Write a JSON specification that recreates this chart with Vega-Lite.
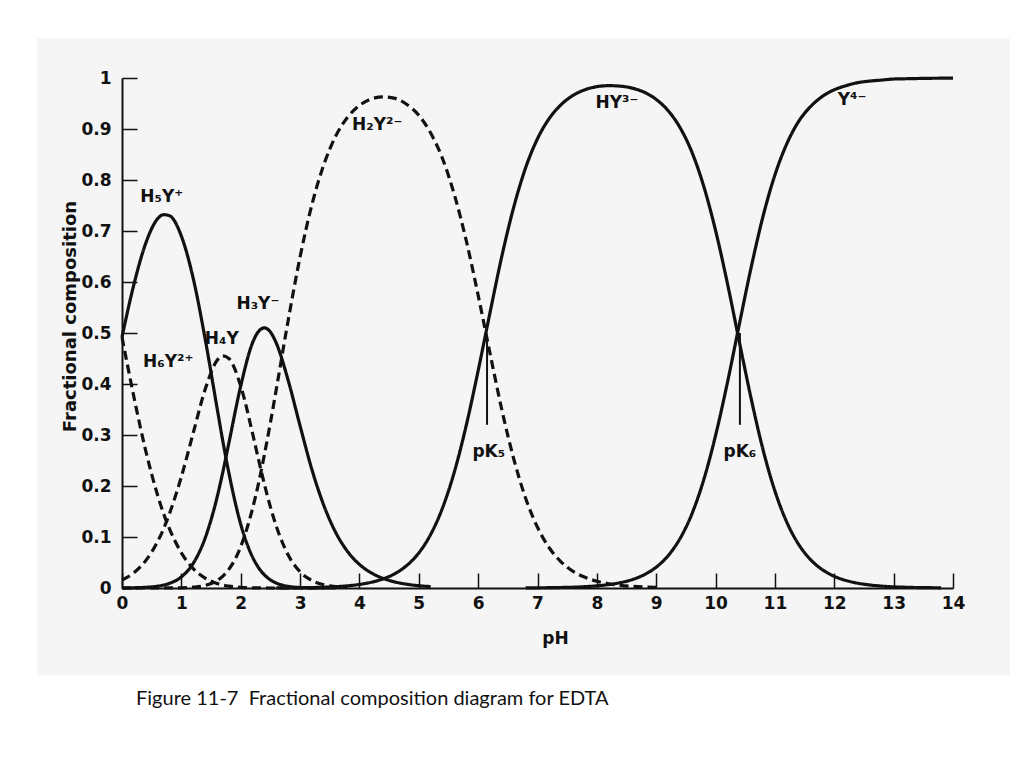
{
  "$schema": "https://vega.github.io/schema/vega-lite/v6.json",
  "width": 831,
  "height": 510,
  "autosize": "none",
  "padding": {"left": 122, "top": 78, "right": 71, "bottom": 180},
  "background": "white",
  "config": {"view": {"stroke": null}},
  "datasets": {
    "curves": [
      {"pH": 0.0, "H6Y": 0.492, "H5Y": 0.492, "H4Y": 0.0156, "H3Y": 0.0002, "H2Y": 0},
      {"pH": 0.2, "H6Y": 0.375, "H5Y": 0.595, "H4Y": 0.0298, "H3Y": 0.0005, "H2Y": 0},
      {"pH": 0.4, "H6Y": 0.269, "H5Y": 0.676, "H4Y": 0.0537, "H3Y": 0.0014, "H2Y": 0},
      {"pH": 0.6, "H6Y": 0.182, "H5Y": 0.724, "H4Y": 0.0911, "H3Y": 0.0036, "H2Y": 0},
      {"pH": 0.7, "H6Y": 0.146, "H5Y": 0.732, "H4Y": 0.116, "H3Y": 0.0058, "H2Y": 0.0001},
      {"pH": 0.8, "H6Y": 0.116, "H5Y": 0.730, "H4Y": 0.146, "H3Y": 0.0092, "H2Y": 0.0001},
      {"pH": 1.0, "H6Y": 0.069, "H5Y": 0.690, "H4Y": 0.218, "H3Y": 0.0218, "H2Y": 0.0004},
      {"pH": 1.2, "H6Y": 0.038, "H5Y": 0.607, "H4Y": 0.304, "H3Y": 0.0483, "H2Y": 0.0016},
      {"pH": 1.4, "H6Y": 0.0195, "H5Y": 0.489, "H4Y": 0.389, "H3Y": 0.0976, "H2Y": 0.005},
      {"pH": 1.6, "H6Y": 0.0089, "H5Y": 0.354, "H4Y": 0.446, "H3Y": 0.177, "H2Y": 0.0144},
      {"pH": 1.7, "H6Y": 0.0057, "H5Y": 0.287, "H4Y": 0.455, "H3Y": 0.228, "H2Y": 0.0234},
      {"pH": 1.8, "H6Y": 0.0036, "H5Y": 0.226, "H4Y": 0.450, "H3Y": 0.284, "H2Y": 0.0366},
      {"pH": 2.0, "H6Y": 0.0013, "H5Y": 0.125, "H4Y": 0.396, "H3Y": 0.396, "H2Y": 0.081},
      {"pH": 2.2, "H6Y": 0.0004, "H5Y": 0.0605, "H4Y": 0.303, "H3Y": 0.481, "H2Y": 0.156},
      {"pH": 2.3, "H6Y": 0.0002, "H5Y": 0.040, "H4Y": 0.252, "H3Y": 0.503, "H2Y": 0.205},
      {"pH": 2.4, "H6Y": 0.0001, "H5Y": 0.0256, "H4Y": 0.203, "H3Y": 0.510, "H2Y": 0.262},
      {"pH": 2.5, "H6Y": 0, "H5Y": 0.0159, "H4Y": 0.159, "H3Y": 0.502, "H2Y": 0.324},
      {"pH": 2.6, "H6Y": 0, "H5Y": 0.0096, "H4Y": 0.121, "H3Y": 0.480, "H2Y": 0.390, "HY": 0.0001},
      {"pH": 2.8, "H6Y": 0, "H5Y": 0.0032, "H4Y": 0.0646, "H3Y": 0.407, "H2Y": 0.525, "HY": 0.0002},
      {"pH": 3.0, "H6Y": 0, "H5Y": 0.001, "H4Y": 0.0318, "H3Y": 0.318, "H2Y": 0.649, "HY": 0.0005},
      {"pH": 3.2, "H6Y": 0, "H5Y": 0.0003, "H4Y": 0.0147, "H3Y": 0.232, "H2Y": 0.752, "HY": 0.0009},
      {"pH": 3.4, "H6Y": 0, "H5Y": 0.0001, "H4Y": 0.0064, "H3Y": 0.162, "H2Y": 0.830, "HY": 0.0016},
      {"pH": 3.6, "H5Y": 0, "H4Y": 0.0027, "H3Y": 0.109, "H2Y": 0.886, "HY": 0.0026},
      {"pH": 3.8, "H4Y": 0.0011, "H3Y": 0.0716, "H2Y": 0.923, "HY": 0.0043},
      {"pH": 4.0, "H3Y": 0.0463, "H2Y": 0.946, "HY": 0.0070},
      {"pH": 4.2, "H3Y": 0.0296, "H2Y": 0.959, "HY": 0.0113},
      {"pH": 4.4, "H3Y": 0.0188, "H2Y": 0.963, "HY": 0.0179},
      {"pH": 4.6, "H3Y": 0.0118, "H2Y": 0.960, "HY": 0.0283},
      {"pH": 4.8, "H3Y": 0.0074, "H2Y": 0.948, "HY": 0.0444},
      {"pH": 5.0, "H3Y": 0.0045, "H2Y": 0.927, "HY": 0.0687},
      {"pH": 5.2, "H3Y": 0.0028, "H2Y": 0.892, "HY": 0.105},
      {"pH": 5.4, "H2Y": 0.842, "HY": 0.157},
      {"pH": 5.6, "H2Y": 0.771, "HY": 0.228},
      {"pH": 5.8, "H2Y": 0.681, "HY": 0.319},
      {"pH": 6.0, "H2Y": 0.574, "HY": 0.426},
      {"pH": 6.2, "H2Y": 0.460, "HY": 0.540},
      {"pH": 6.4, "H2Y": 0.349, "HY": 0.651},
      {"pH": 6.6, "H2Y": 0.253, "HY": 0.747},
      {"pH": 6.8, "H2Y": 0.176, "HY": 0.824, "Y": 0.0002},
      {"pH": 7.0, "H2Y": 0.119, "HY": 0.881, "Y": 0.0004},
      {"pH": 7.2, "H2Y": 0.0784, "HY": 0.921, "Y": 0.0006},
      {"pH": 7.4, "H2Y": 0.0509, "HY": 0.948, "Y": 0.001},
      {"pH": 7.6, "H2Y": 0.0327, "HY": 0.966, "Y": 0.0016},
      {"pH": 7.8, "H2Y": 0.0209, "HY": 0.977, "Y": 0.0026},
      {"pH": 8.0, "H2Y": 0.0133, "HY": 0.983, "Y": 0.0042},
      {"pH": 8.2, "H2Y": 0.0084, "HY": 0.985, "Y": 0.0067},
      {"pH": 8.4, "H2Y": 0.0053, "HY": 0.984, "Y": 0.0106},
      {"pH": 8.6, "H2Y": 0.0033, "HY": 0.980, "Y": 0.0166},
      {"pH": 8.8, "H2Y": 0.0021, "HY": 0.972, "Y": 0.0262},
      {"pH": 9.0, "H2Y": 0.0013, "HY": 0.958, "Y": 0.0409},
      {"pH": 9.2, "HY": 0.936, "Y": 0.0633},
      {"pH": 9.4, "HY": 0.903, "Y": 0.0967},
      {"pH": 9.6, "HY": 0.855, "Y": 0.145},
      {"pH": 9.8, "HY": 0.788, "Y": 0.212},
      {"pH": 10.0, "HY": 0.701, "Y": 0.299},
      {"pH": 10.2, "HY": 0.597, "Y": 0.403},
      {"pH": 10.4, "HY": 0.483, "Y": 0.517},
      {"pH": 10.6, "HY": 0.371, "Y": 0.629},
      {"pH": 10.8, "HY": 0.271, "Y": 0.729},
      {"pH": 11.0, "HY": 0.190, "Y": 0.810},
      {"pH": 11.2, "HY": 0.129, "Y": 0.871},
      {"pH": 11.4, "HY": 0.0854, "Y": 0.915},
      {"pH": 11.6, "HY": 0.0556, "Y": 0.944},
      {"pH": 11.8, "HY": 0.0358, "Y": 0.964},
      {"pH": 12.0, "HY": 0.0229, "Y": 0.977},
      {"pH": 12.2, "HY": 0.0146, "Y": 0.985},
      {"pH": 12.4, "HY": 0.0093, "Y": 0.991},
      {"pH": 12.6, "HY": 0.0059, "Y": 0.994},
      {"pH": 12.8, "HY": 0.0037, "Y": 0.996},
      {"pH": 13.0, "HY": 0.0023, "Y": 0.998},
      {"pH": 13.2, "HY": 0.0015, "Y": 0.9985},
      {"pH": 13.4, "HY": 0.0009, "Y": 0.999},
      {"pH": 13.6, "HY": 0.0006, "Y": 0.9994},
      {"pH": 13.8, "HY": 0.0004, "Y": 0.9996},
      {"pH": 14.0, "Y": 0.9998}
    ],
    "labels": [
      {"pH": 0.67, "f": 0.767, "label": "H₅Y⁺"},
      {"pH": 0.78, "f": 0.443, "label": "H₆Y²⁺"},
      {"pH": 1.68, "f": 0.488, "label": "H₄Y"},
      {"pH": 2.29, "f": 0.557, "label": "H₃Y⁻"},
      {"pH": 4.30, "f": 0.908, "label": "H₂Y²⁻"},
      {"pH": 8.34, "f": 0.951, "label": "HY³⁻"},
      {"pH": 12.30, "f": 0.957, "label": "Y⁴⁻"},
      {"pH": 6.18, "f": 0.267, "label": "pK₅"},
      {"pH": 10.41, "f": 0.267, "label": "pK₆"}
    ],
    "marks": [
      {"pH": 6.15, "top": 0.49, "bottom": 0.32},
      {"pH": 10.41, "top": 0.50, "bottom": 0.32}
    ],
    "panel": [
      {"x1": -1.43, "x2": 14.96, "y1": -0.171, "y2": 1.078}
    ],
    "caption": [
      {"pH": 0.236, "f": -0.229, "text": "Figure 11-7\u00a0\u00a0Fractional composition diagram for EDTA"}
    ]
  },
  "layer": [
    {
      "data": {"name": "panel"},
      "mark": {"type": "rect", "fill": "#f5f5f5", "clip": false},
      "encoding": {
        "x": {"field": "x1", "type": "quantitative", "scale": {"domain": [0, 14]}},
        "x2": {"field": "x2"},
        "y": {"field": "y1", "type": "quantitative", "scale": {"domain": [0, 1]}},
        "y2": {"field": "y2"}
      }
    },
    {
      "data": {"name": "curves"},
      "transform": [
        {"fold": ["H6Y", "H5Y", "H4Y", "H3Y", "H2Y", "HY", "Y"], "as": ["species", "f"]}
      ],
      "mark": {"type": "line", "interpolate": "monotone", "color": "#111111", "strokeWidth": 3.2, "clip": false},
      "encoding": {
        "x": {
          "field": "pH", "type": "quantitative",
          "scale": {"domain": [0, 14], "nice": false, "zero": false},
          "axis": {
            "zindex": 1,
            "values": [0,1,2,3,4,5,6,7,8,9,10,11,12,13,14],
            "format": "d",
            "title": "pH",
            "grid": false,
            "domainColor": "#111111", "domainWidth": 2,
            "tickColor": "#111111", "tickWidth": 1.5, "tickSize": -15,
            "labelPadding": 22,
            "labelFont": "DejaVu Sans", "labelFontWeight": "bold", "labelFontSize": 17, "labelColor": "#111111",
            "titleFont": "DejaVu Sans", "titleFontWeight": "bold", "titleFontSize": 17, "titleColor": "#111111",
            "titleX": 433, "titleY": 42, "titleBaseline": "top",
            "labelFlush": false
          }
        },
        "y": {
          "field": "f", "type": "quantitative",
          "scale": {"domain": [0, 1], "nice": false},
          "axis": {
            "zindex": 1,
            "values": [0,0.1,0.2,0.3,0.4,0.5,0.6,0.7,0.8,0.9,1],
            "format": ".1~f",
            "title": "Fractional composition",
            "grid": false,
            "domainColor": "#111111", "domainWidth": 2,
            "tickColor": "#111111", "tickWidth": 1.5, "tickSize": -15,
            "labelPadding": 26,
            "labelFont": "DejaVu Sans", "labelFontWeight": "bold", "labelFontSize": 17, "labelColor": "#111111",
            "titleFont": "DejaVu Sans", "titleFontWeight": "bold", "titleFontSize": 18, "titleColor": "#111111",
            "titleX": -52, "titleY": 238, "titleAngle": -90, "titleBaseline": "middle", "titleAlign": "center",
            "labelFlush": false
          }
        },
        "strokeDash": {
          "field": "species", "type": "nominal",
          "scale": {
            "domain": ["H6Y", "H5Y", "H4Y", "H3Y", "H2Y", "HY", "Y"],
            "range": [[9, 5], [1, 0], [9, 5], [1, 0], [9, 5], [1, 0], [1, 0]]
          },
          "legend": null
        }
      }
    },
    {
      "data": {"name": "marks"},
      "mark": {"type": "rule", "color": "#111111", "strokeWidth": 2},
      "encoding": {
        "x": {"field": "pH", "type": "quantitative"},
        "y": {"field": "top", "type": "quantitative"},
        "y2": {"field": "bottom"}
      }
    },
    {
      "data": {"name": "labels"},
      "mark": {"type": "text", "font": "DejaVu Sans", "fontWeight": "bold", "fontSize": 17, "color": "#111111", "align": "center", "baseline": "middle"},
      "encoding": {
        "x": {"field": "pH", "type": "quantitative"},
        "y": {"field": "f", "type": "quantitative"},
        "text": {"field": "label"}
      }
    },
    {
      "data": {"name": "caption"},
      "mark": {"type": "text", "font": "Lato", "fontSize": 20, "color": "#111111", "align": "left", "baseline": "alphabetic", "clip": false},
      "encoding": {
        "x": {"field": "pH", "type": "quantitative"},
        "y": {"field": "f", "type": "quantitative"},
        "text": {"field": "text"}
      }
    }
  ]
}
